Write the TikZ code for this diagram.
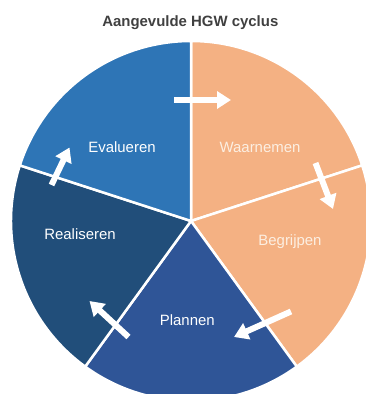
\documentclass[tikz,border=0pt]{standalone}
\usepackage{fontspec}
\setmainfont{Liberation Sans}
\usetikzlibrary{arrows.meta}
\definecolor{evblue}{HTML}{2E75B6}
\definecolor{reblue}{HTML}{214E7A}
\definecolor{plblue}{HTML}{2F5597}
\definecolor{segorange}{HTML}{F4B183}
\definecolor{creamtext}{HTML}{FCEFE2}
\definecolor{titlegray}{HTML}{404040}
\begin{document}
\begin{tikzpicture}[x=1bp,y=1bp,
  segfill/.style={draw=white, line width=2.5bp, line join=round},
  seglabel/.style={text=white, font=\fontsize{15}{18}\selectfont, anchor=base, inner sep=0pt},
  cyclearrow/.style={draw=white, line width=6bp, -{Triangle[length=14bp,width=17bp]}}]
\useasboundingbox (0,0) rectangle (366,394);
\clip (0,0) rectangle (366,394);
\coordinate (c) at (191,173);
\def\R{180}
% sectors
\filldraw[segfill, fill=segorange] (c) -- ++(18:\R) arc[start angle=18, end angle=90, radius=\R] -- cycle;
\filldraw[segfill, fill=segorange] (c) -- ++(-54:\R) arc[start angle=-54, end angle=18, radius=\R] -- cycle;
\filldraw[segfill, fill=plblue] (c) -- ++(-126:\R) arc[start angle=-126, end angle=-54, radius=\R] -- cycle;
\filldraw[segfill, fill=reblue] (c) -- ++(162:\R) arc[start angle=162, end angle=234, radius=\R] -- cycle;
\filldraw[segfill, fill=evblue] (c) -- ++(90:\R) arc[start angle=90, end angle=162, radius=\R] -- cycle;
% labels
\node[seglabel] (ev) at (122,241.3) {Evalueren};
\node[seglabel, text=creamtext] (wa) at (260,241.3) {Waarnemen};
\node[seglabel, text=creamtext] (be) at (290,148.3) {Begrijpen};
\node[seglabel] (re) at (80,155) {Realiseren};
\node[seglabel] (pl) at (187.3,69) {Plannen};
\node[anchor=base, inner sep=0pt, text=titlegray, font=\bfseries\fontsize{15}{18}\selectfont] (title) at (190.3,368) {Aangevulde HGW cyclus};
% arrows
\coordinate (a1s) at (174,294);   \coordinate (a1e) at (231,294);
\coordinate (a2s) at (315.5,231); \coordinate (a2e) at (333,185);
\coordinate (a3s) at (291,82.5);  \coordinate (a3e) at (234,57);
\coordinate (a4s) at (128.5,57);  \coordinate (a4e) at (89.5,93);
\coordinate (a5s) at (51.5,209);  \coordinate (a5e) at (69.5,246.5);
\draw[cyclearrow] (a1s) -- (a1e);
\draw[cyclearrow] (a2s) -- (a2e);
\draw[cyclearrow] (a3s) -- (a3e);
\draw[cyclearrow] (a4s) -- (a4e);
\draw[cyclearrow] (a5s) -- (a5e);
\end{tikzpicture}
\end{document}
